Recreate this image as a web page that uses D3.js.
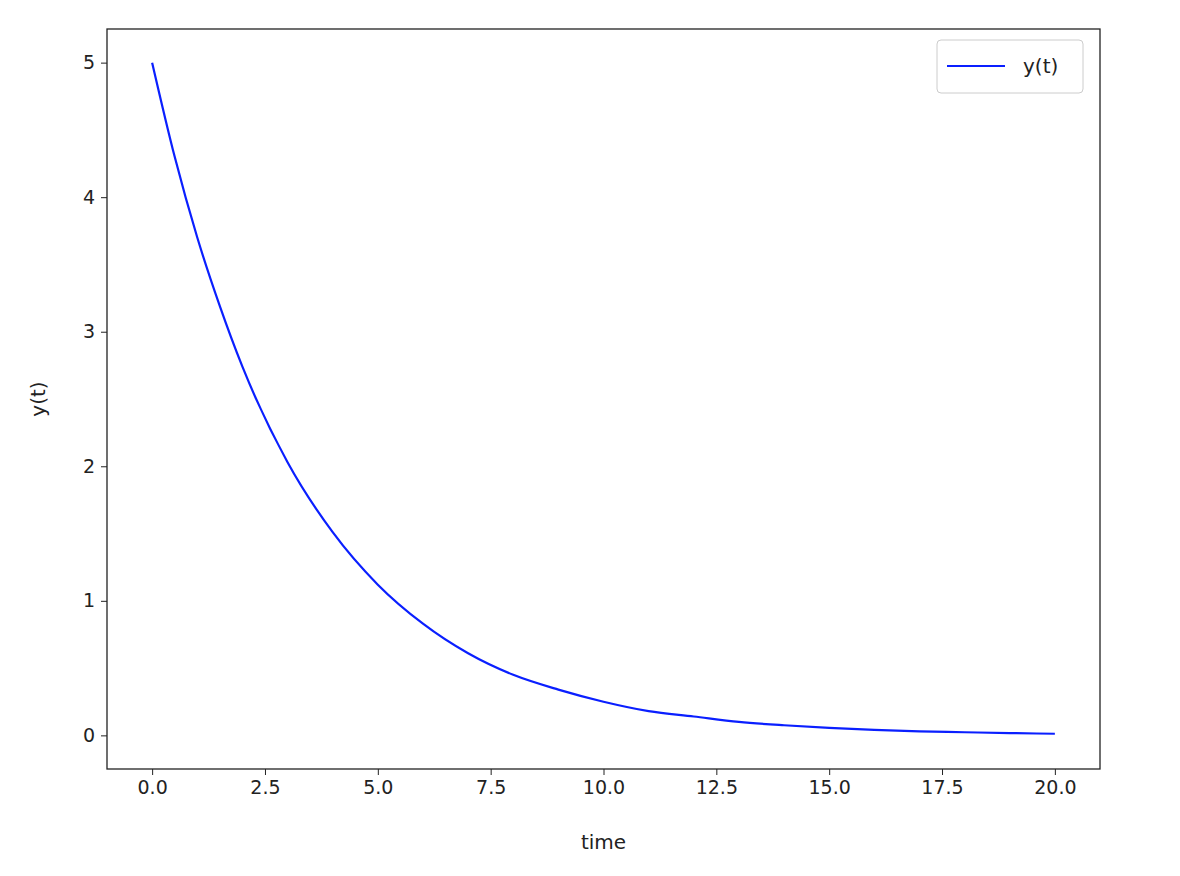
<!DOCTYPE html>
<html>
<head>
<meta charset="utf-8">
<script src="https://cdn.jsdelivr.net/npm/d3@7"></script>
<style>
  body { margin: 0; background: #fff; }
  text { font-family: "DejaVu Sans", sans-serif; fill: #222; }
</style>
</head>
<body>
<svg id="drawing_region"></svg>
<script>
// values
const times = [0, 0.5, 1, 1.5, 2, 3, 4, 5, 6, 7, 8, 9, 10, 11, 12, 13, 14, 15, 16, 17, 18, 19, 20];
const values = [5.0, 4.30, 3.70, 3.19, 2.74, 2.03, 1.51, 1.12, 0.83, 0.61, 0.45, 0.34, 0.25, 0.18, 0.14, 0.10, 0.075, 0.056, 0.041, 0.030, 0.023, 0.017, 0.012];
const x_ticks = [0, 2.5, 5, 7.5, 10, 12.5, 15, 17.5, 20];
const y_ticks = [0, 1, 2, 3, 4, 5];

const data = times.map((t, i) => ({ x: t, y: values[i] }));

const width = 1180, height = 876;
const margin = { top: 29, right: 80, bottom: 107, left: 107 };
const chart_width = width - margin.left - margin.right;
const chart_height = height - margin.top - margin.bottom;

const svg = d3.select('#drawing_region')
  .attr('width', width)
  .attr('height', height);

const chart = svg.append('g')
  .attr('transform', `translate(${margin.left}, ${margin.top})`);

const x_scale = d3.scaleLinear().domain([-1.0, 21.0]).range([0, chart_width]);
const y_scale = d3.scaleLinear().domain([-0.25, 5.25]).range([chart_height, 0]);

const x_axis = d3.axisBottom(x_scale).tickValues(x_ticks).tickFormat(d3.format('.1f')).tickSize(6).tickPadding(6);
const y_axis = d3.axisLeft(y_scale).tickValues(y_ticks).tickFormat(d3.format('d')).tickSize(6).tickPadding(6);

const xg = chart.append('g')
  .attr('transform', `translate(0, ${chart_height})`)
  .call(x_axis);
const yg = chart.append('g').call(y_axis);
[xg, yg].forEach(g => {
  g.select('.domain').remove();
  g.selectAll('text').style('font-size', '19px').style('font-family', '"DejaVu Sans", sans-serif').attr('fill', '#222');
  g.selectAll('line').attr('stroke', '#222');
});

const line = d3.line()
  .x(d => x_scale(d.x))
  .y(d => y_scale(d.y))
  .curve(d3.curveMonotoneX);

chart.append('path')
  .attr('d', line(data))
  .attr('fill', 'none')
  .attr('stroke', '#0a1fff')
  .attr('stroke-width', 2.2);

chart.append('rect')
  .attr('width', chart_width)
  .attr('height', chart_height)
  .attr('fill', 'none')
  .attr('stroke', '#222')
  .attr('stroke-width', 1.3);

chart.append('text')
  .attr('x', chart_width / 2)
  .attr('y', chart_height + 80)
  .attr('text-anchor', 'middle')
  .style('font-size', '20px')
  .text('time');

chart.append('text')
  .attr('transform', `translate(-62, ${chart_height / 2}) rotate(-90)`)
  .attr('text-anchor', 'middle')
  .style('font-size', '20px')
  .text('y(t)');

// legend
const legend = chart.append('g').attr('transform', `translate(${chart_width - 163}, 11)`);
legend.append('rect')
  .attr('width', 146).attr('height', 53).attr('rx', 4)
  .attr('fill', '#fff').attr('stroke', '#ccc');
legend.append('line')
  .attr('x1', 10).attr('x2', 68).attr('y1', 26).attr('y2', 26)
  .attr('stroke', '#0a1fff').attr('stroke-width', 2.2);
legend.append('text')
  .attr('x', 86).attr('y', 33)
  .style('font-size', '20px')
  .text('y(t)');
</script>
</body>
</html>
